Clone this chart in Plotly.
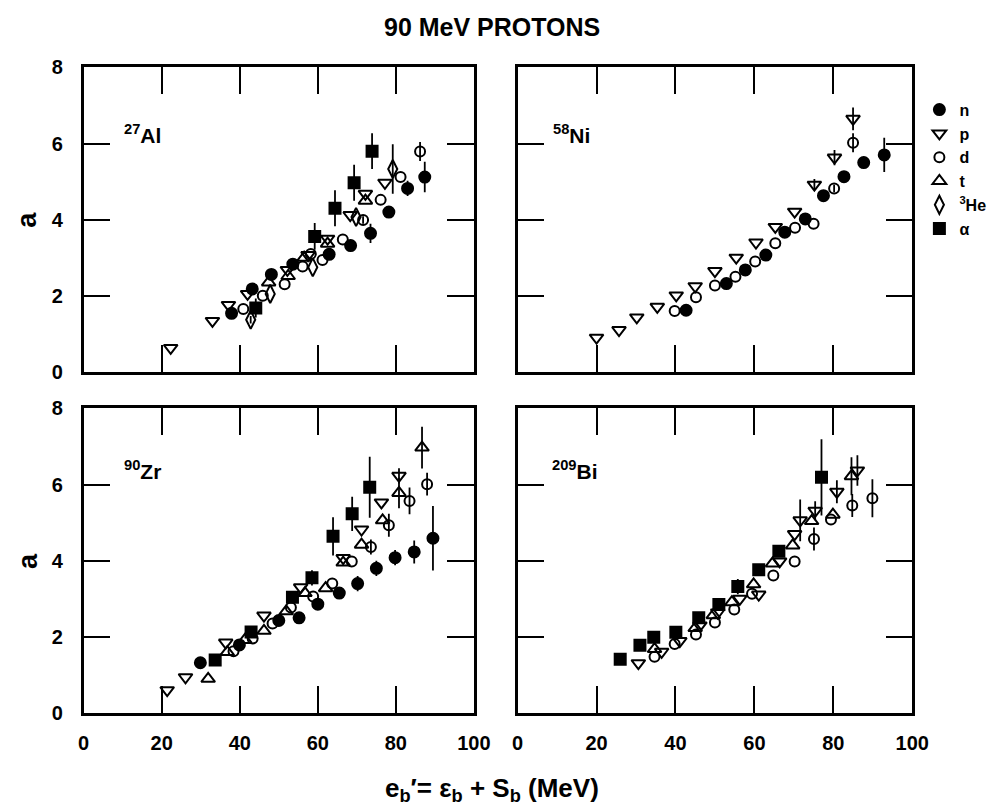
import plotly.graph_objects as go

# ---- 27Al ----
al_n_x = [37.9, 43.2, 48.1, 53.6, 62.9, 68.4, 73.5, 78.2, 83.0, 87.4]
al_n_y = [1.54, 2.18, 2.56, 2.83, 3.09, 3.32, 3.64, 4.20, 4.82, 5.12]
al_n_e = [0.10, 0.10, 0.10, 0.10, 0.12, 0.15, 0.25, 0.15, 0.20, 0.40]
al_p_x = [22.3, 33.0, 37.1, 42.0, 52.2, 57.5, 62.5, 68.3, 72.2, 77.2]
al_p_y = [0.63, 1.34, 1.76, 2.05, 2.68, 3.07, 3.50, 4.12, 4.68, 4.97]
al_p_e = [0, 0, 0, 0, 0, 0, 0, 0, 0, 0]
al_d_x = [40.9, 45.9, 51.5, 56.1, 58.2, 61.2, 66.4, 71.6, 76.1, 81.2, 86.2]
al_d_y = [1.65, 2.00, 2.30, 2.77, 3.10, 2.94, 3.48, 3.99, 4.52, 5.12, 5.79]
al_d_e = [0, 0, 0, 0, 0, 0, 0, 0.10, 0, 0, 0.25]
al_t_x = [47.4, 52.4, 56.5, 62.5, 72.2]
al_t_y = [2.35, 2.52, 3.00, 3.37, 4.50]
al_t_e = [0, 0, 0, 0, 0]
al_h_x = [42.8, 47.8, 58.7, 69.8, 79.2]
al_h_y = [1.37, 2.05, 2.75, 4.07, 5.33]
al_h_e = [0.10, 0, 0, 0, 0.65]
al_a_x = [44.1, 59.2, 64.4, 69.3, 73.9]
al_a_y = [1.68, 3.56, 4.30, 4.97, 5.80]
al_a_e = [0.25, 0.35, 0.47, 0.47, 0.47]

# ---- 58Ni ----
ni_n_x = [42.7, 52.9, 57.7, 62.9, 67.7, 72.9, 77.5, 82.7, 87.7, 92.9]
ni_n_y = [1.62, 2.32, 2.68, 3.07, 3.67, 4.02, 4.63, 5.13, 5.50, 5.70]
ni_n_e = [0.15, 0, 0, 0, 0.15, 0.15, 0.15, 0.15, 0.15, 0.45]
ni_p_x = [20.0, 25.7, 30.2, 35.4, 40.2, 45.0, 50.0, 55.4, 60.4, 65.3, 70.2, 75.2, 80.3, 85.0]
ni_p_y = [0.90, 1.10, 1.43, 1.71, 2.01, 2.25, 2.65, 3.00, 3.40, 3.81, 4.21, 4.92, 5.63, 6.65]
ni_p_e = [0, 0, 0, 0, 0, 0, 0, 0, 0, 0, 0, 0.15, 0.20, 0.30]
ni_d_x = [39.8, 45.2, 50.0, 55.2, 60.2, 65.3, 70.3, 75.0, 80.2, 85.0]
ni_d_y = [1.60, 1.96, 2.27, 2.50, 2.90, 3.38, 3.79, 3.89, 4.82, 6.02]
ni_d_e = [0, 0, 0, 0, 0, 0, 0, 0, 0.10, 0.25]

# ---- 90Zr ----
zr_n_x = [29.9, 39.9, 50.0, 55.2, 60.0, 65.5, 70.2, 75.0, 79.8, 84.7, 89.5]
zr_n_y = [1.32, 1.79, 2.43, 2.50, 2.86, 3.15, 3.40, 3.80, 4.08, 4.23, 4.59]
zr_n_e = [0.15, 0.10, 0.15, 0.15, 0.15, 0.15, 0.20, 0.20, 0.20, 0.30, 0.85]
zr_p_x = [21.4, 26.1, 36.4, 46.2, 55.6, 66.5, 71.2, 76.3, 80.8]
zr_p_y = [0.60, 0.94, 1.85, 2.56, 3.30, 4.07, 4.82, 5.53, 6.23]
zr_p_e = [0, 0, 0, 0, 0, 0, 0, 0, 0.20]
zr_d_x = [38.4, 43.3, 48.4, 53.1, 58.8, 63.7, 68.7, 73.6, 78.2, 83.5, 88.0]
zr_d_y = [1.62, 1.96, 2.35, 2.77, 3.06, 3.40, 3.98, 4.36, 4.93, 5.57, 6.01]
zr_d_e = [0, 0, 0, 0, 0, 0, 0, 0.20, 0.30, 0.35, 0.30]
zr_t_x = [31.9, 36.8, 41.3, 46.2, 51.9, 56.7, 62.0, 66.5, 71.2, 76.6, 80.8, 86.7]
zr_t_y = [0.90, 1.60, 1.92, 2.16, 2.67, 3.15, 3.28, 3.95, 4.42, 5.06, 5.78, 6.97]
zr_t_e = [0, 0, 0, 0, 0, 0, 0, 0, 0, 0, 0.40, 0.55]
zr_a_x = [33.7, 42.9, 53.5, 58.5, 63.9, 68.8, 73.3]
zr_a_y = [1.39, 2.13, 3.04, 3.55, 4.64, 5.23, 5.93]
zr_a_e = [0.10, 0.10, 0.10, 0.20, 0.50, 0.45, 0.80]

# ---- 209Bi ----
bi_p_x = [30.6, 36.5, 41.1, 46.2, 50.7, 56.3, 61.1, 66.4, 70.2, 71.6, 75.4, 80.9, 86.1]
bi_p_y = [1.31, 1.61, 1.89, 2.30, 2.64, 3.00, 3.11, 3.98, 4.70, 5.06, 5.31, 5.81, 6.37]
bi_p_e = [0, 0, 0, 0, 0, 0, 0, 0, 0, 0.55, 0.25, 0.30, 0.40]
bi_d_x = [34.7, 39.8, 45.2, 50.0, 54.9, 59.4, 64.8, 70.2, 75.1, 79.4, 84.8, 89.9]
bi_d_y = [1.48, 1.81, 2.06, 2.38, 2.72, 3.13, 3.61, 3.98, 4.57, 5.08, 5.45, 5.64]
bi_d_e = [0, 0, 0, 0, 0, 0, 0, 0, 0.30, 0, 0.30, 0.50]
bi_t_x = [34.7, 45.0, 49.6, 54.3, 59.8, 64.6, 69.7, 74.5, 79.9, 84.6]
bi_t_y = [1.68, 2.23, 2.57, 2.91, 3.38, 3.93, 4.40, 5.04, 5.21, 6.22]
bi_t_e = [0, 0, 0, 0, 0, 0, 0, 0, 0, 0.50]
bi_a_x = [26.0, 31.0, 34.5, 40.1, 45.9, 51.0, 55.8, 61.1, 66.2, 77.0]
bi_a_y = [1.41, 1.78, 1.99, 2.12, 2.50, 2.85, 3.32, 3.76, 4.25, 6.19]
bi_a_e = [0, 0, 0, 0.10, 0.15, 0.15, 0.20, 0.15, 0.15, 1.00]

# particle styles: key -> (legend text, marker symbol, size)
particles = {
    "n": ("n", "circle", 11),
    "p": ("p", "triangle-down-open", 12),
    "d": ("d", "circle-open", 10),
    "t": ("t", "triangle-up-open", 12),
    "h": ("<sup>3</sup>He", "diamond-tall-open", 13),
    "a": ("α", "square", 11),
}
order = ["n", "p", "d", "t", "h", "a"]

panels = [
    ("x", "y", {"n": (al_n_x, al_n_y, al_n_e), "p": (al_p_x, al_p_y, al_p_e),
                "d": (al_d_x, al_d_y, al_d_e), "t": (al_t_x, al_t_y, al_t_e),
                "h": (al_h_x, al_h_y, al_h_e), "a": (al_a_x, al_a_y, al_a_e)}),
    ("x2", "y2", {"n": (ni_n_x, ni_n_y, ni_n_e), "p": (ni_p_x, ni_p_y, ni_p_e),
                  "d": (ni_d_x, ni_d_y, ni_d_e)}),
    ("x3", "y3", {"n": (zr_n_x, zr_n_y, zr_n_e), "p": (zr_p_x, zr_p_y, zr_p_e),
                  "d": (zr_d_x, zr_d_y, zr_d_e), "t": (zr_t_x, zr_t_y, zr_t_e),
                  "a": (zr_a_x, zr_a_y, zr_a_e)}),
    ("x4", "y4", {"p": (bi_p_x, bi_p_y, bi_p_e), "d": (bi_d_x, bi_d_y, bi_d_e),
                  "t": (bi_t_x, bi_t_y, bi_t_e), "a": (bi_a_x, bi_a_y, bi_a_e)}),
]

fig = go.Figure()
for i, (xa, ya, series) in enumerate(panels):
    for key in order:
        if key not in series:
            continue
        xs, ys, es = series[key]
        label, symbol, size = particles[key]
        fig.add_trace(go.Scatter(
            x=xs, y=ys, xaxis=xa, yaxis=ya, mode="markers",
            name=label, showlegend=(i == 0),
            marker=dict(symbol=symbol, size=size, color="black",
                        line=dict(color="black", width=2)),
            error_y=dict(type="data", array=es, visible=True, width=0,
                         thickness=1.8, color="black"),
        ))

W, H = 995, 808
left_dom = [79.5 / W, 479.0 / W]
right_dom = [523.7 / W, 927.7 / W]
top_dom = [1 - 371.0 / H, 1 - 58.0 / H]
bot_dom = [1 - 721.7 / H, 1 - 408.5 / H]

tick_font = dict(family="Liberation Sans", size=20, color="black", weight="bold")
common_x = dict(range=[0, 100], tickvals=[0, 20, 40, 60, 80, 100], ticks="inside",
                ticklen=27, tickwidth=1.6, tickcolor="black", showline=True,
                linewidth=2.5, linecolor="black", mirror="ticks", showgrid=False,
                zeroline=False, tickfont=tick_font, ticklabelstandoff=10)
common_y = dict(range=[0, 8], tickvals=[0, 2, 4, 6, 8], ticks="inside",
                ticklen=27, tickwidth=1.6, tickcolor="black", showline=True,
                linewidth=2.5, linecolor="black", mirror="ticks", showgrid=False,
                zeroline=False, tickfont=tick_font, ticklabelstandoff=14)

fig.update_layout(
    width=W, height=H, margin=dict(l=0, r=0, t=0, b=0),
    paper_bgcolor="white", plot_bgcolor="white",
    font=dict(family="Liberation Sans", color="black"),
    xaxis=dict(common_x, domain=left_dom, anchor="y", showticklabels=False),
    yaxis=dict(common_y, domain=top_dom, anchor="x"),
    xaxis2=dict(common_x, domain=right_dom, anchor="y2", showticklabels=False),
    yaxis2=dict(common_y, domain=top_dom, anchor="x2", showticklabels=False),
    xaxis3=dict(common_x, domain=left_dom, anchor="y3"),
    yaxis3=dict(common_y, domain=bot_dom, anchor="x3"),
    xaxis4=dict(common_x, domain=right_dom, anchor="y4"),
    yaxis4=dict(common_y, domain=bot_dom, anchor="x4", showticklabels=False),
    legend=dict(x=935 / W, y=1 - 84 / H, xanchor="left", yanchor="top",
                bgcolor="rgba(0,0,0,0)", itemwidth=30, tracegroupgap=0,
                font=dict(family="Liberation Sans", size=16, color="black", weight="bold")),
    showlegend=True,
)

bold_big = dict(family="Liberation Sans", size=21, color="black", weight="bold")
notes = [
    dict(text="90 MeV PROTONS", x=0.5, y=1 - 16 / H, font=dict(bold_big, size=25)),
    dict(text="e<sub>b</sub>′= ε<sub>b</sub> + S<sub>b</sub> (MeV)", x=0.5, y=1 - 800 / H,
         font=dict(bold_big, size=26)),
    dict(text="a", x=22 / W, y=1 - 214 / H, font=dict(bold_big, size=27), textangle=-90),
    dict(text="a", x=22 / W, y=1 - 565 / H, font=dict(bold_big, size=27), textangle=-90),
    dict(text="<sup>27</sup>Al", x=140 / W, y=1 - 126 / H, font=bold_big),
    dict(text="<sup>58</sup>Ni", x=579 / W, y=1 - 126 / H, font=bold_big),
    dict(text="<sup>90</sup>Zr", x=140 / W, y=1 - 472 / H, font=bold_big),
    dict(text="<sup>209</sup>Bi", x=582 / W, y=1 - 472 / H, font=bold_big),
]
for n in notes:
    fig.add_annotation(xref="paper", yref="paper", showarrow=False,
                       xanchor="center", yanchor="middle", **n)

fig.write_html("out.html")
